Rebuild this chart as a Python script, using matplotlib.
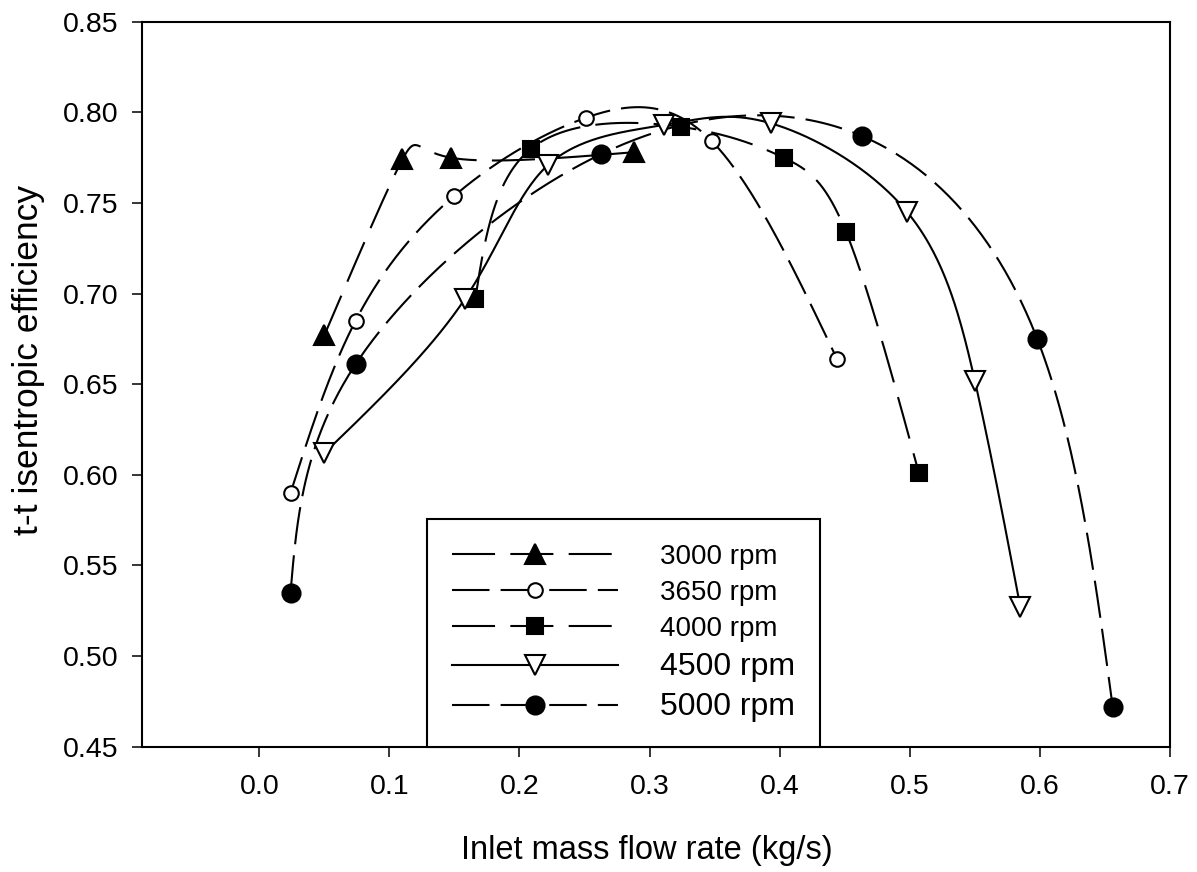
import numpy as np
import matplotlib
matplotlib.use('Agg')
import matplotlib.pyplot as plt
from matplotlib.lines import Line2D

plt.rcParams['font.family'] = ['Liberation Sans', 'DejaVu Sans']
plt.rcParams['lines.scale_dashes'] = False

# inlet mass flow rate (kg/s) and t-t isentropic efficiency, one speed line each
flow_3000 = [0.050, 0.110, 0.147, 0.288]
eff_3000 = [0.677, 0.774, 0.775, 0.778]

flow_3650 = [0.024, 0.074, 0.150, 0.251, 0.348, 0.444]
eff_3650 = [0.590, 0.685, 0.754, 0.797, 0.784, 0.664]

flow_4000 = [0.166, 0.209, 0.324, 0.403, 0.451, 0.507]
eff_4000 = [0.697, 0.780, 0.792, 0.775, 0.734, 0.601]

flow_4500 = [0.050, 0.158, 0.222, 0.311, 0.393, 0.498, 0.550, 0.585]
eff_4500 = [0.612, 0.697, 0.771, 0.793, 0.794, 0.745, 0.652, 0.527]

flow_5000 = [0.024, 0.074, 0.263, 0.463, 0.598, 0.656]
eff_5000 = [0.535, 0.661, 0.777, 0.787, 0.675, 0.472]

speeds = ['3000 rpm', '3650 rpm', '4000 rpm', '4500 rpm', '5000 rpm']
flows = [flow_3000, flow_3650, flow_4000, flow_4500, flow_5000]
effs = [eff_3000, eff_3650, eff_4000, eff_4500, eff_5000]

xticks = [0.0, 0.1, 0.2, 0.3, 0.4, 0.5, 0.6, 0.7]
yticks = [0.45, 0.50, 0.55, 0.60, 0.65, 0.70, 0.75, 0.80, 0.85]

# marker, fill, size, dash pattern, legend font size
styles = [
    ('^', 'black', 14, (0, (31, 11)), 20),
    ('o', 'white', 10.5, (0, (27, 8)), 20),
    ('s', 'black', 12, (0, (31, 11)), 20),
    ('v', 'white', 14, '-', 23),
    ('o', 'black', 13, (0, (27, 8)), 23),
]


def natural_coeffs(t, y):
    k = len(t)
    h = np.diff(t)
    A = np.zeros((k, k))
    b = np.zeros(k)
    A[0, 0] = 1
    A[-1, -1] = 1
    for i in range(1, k - 1):
        A[i, i - 1] = h[i - 1]
        A[i, i] = 2 * (h[i - 1] + h[i])
        A[i, i + 1] = h[i]
        b[i] = 6 * ((y[i + 1] - y[i]) / h[i] - (y[i] - y[i - 1]) / h[i - 1])
    return np.linalg.solve(A, b)


def natural_eval(t, y, M, ts):
    k = len(t)
    idx = np.clip(np.searchsorted(t, ts) - 1, 0, k - 2)
    t0, t1 = t[idx], t[idx + 1]
    hh = t1 - t0
    a = t1 - ts
    c = ts - t0
    return (M[idx] * a**3 / (6 * hh) + M[idx + 1] * c**3 / (6 * hh)
            + (y[idx] / hh - M[idx] * hh / 6) * a
            + (y[idx + 1] / hh - M[idx + 1] * hh / 6) * c)


def spline_curve(x, y, n=400):
    # parametric cubic spline through the points (x and y vs point index)
    x = np.asarray(x, float)
    y = np.asarray(y, float)
    t = np.arange(len(x), dtype=float)
    ts = np.linspace(0, t[-1], n)
    xs = natural_eval(t, x, natural_coeffs(t, x), ts)
    ys = natural_eval(t, y, natural_coeffs(t, y), ts)
    return xs, ys


fig = plt.figure(figsize=(11.97, 8.72), dpi=100)
ax = fig.add_axes([0.1186, 0.1437, 0.8588, 0.8314])

handles = []
for fx, ey, (mk, fc, ms, ls, fs) in zip(flows, effs, styles):
    xs, ys = spline_curve(fx, ey)
    ax.plot(xs, ys, color='black', lw=1.5, linestyle=ls, zorder=2)
    ax.plot(fx, ey, linestyle='none', marker=mk, ms=ms, mfc=fc,
            mec='black', mew=1.5, zorder=3)
    handles.append(Line2D([], [], color='black', lw=1.5, linestyle=ls,
                          marker=mk, ms=ms, mfc=fc, mec='black', mew=1.5))

ax.set_xlim(-0.0902, 0.7)
ax.set_ylim(0.45, 0.85)
ax.set_xticks(xticks)
ax.set_xticklabels(['%.1f' % v for v in xticks])
ax.set_yticks(yticks)
ax.set_yticklabels(['%.2f' % v for v in yticks])
ax.tick_params(direction='out', length=7, width=1.1, labelsize=20.5)
ax.tick_params(axis='x', pad=13)
ax.tick_params(axis='y', pad=10)
for sp in ax.spines.values():
    sp.set_linewidth(1.5)

ax.set_xlabel('Inlet mass flow rate (kg/s)', fontsize=23.5, labelpad=25, x=0.491)
ax.set_ylabel('t-t isentropic efficiency', fontsize=25.5, labelpad=13, y=0.534)

leg = ax.legend(handles, speeds, loc='lower left', bbox_to_anchor=(0.277, 0.0),
                borderaxespad=0, fancybox=False, edgecolor='black', framealpha=1,
                fontsize=20, numpoints=1, handlelength=6.0, handletextpad=1.5,
                borderpad=0.9, labelspacing=0.36)
leg.get_frame().set_linewidth(1.5)
for t, (_, _, _, _, fs) in zip(leg.get_texts(), styles):
    t.set_fontsize(fs)

fig.savefig('out.png', dpi=100)
